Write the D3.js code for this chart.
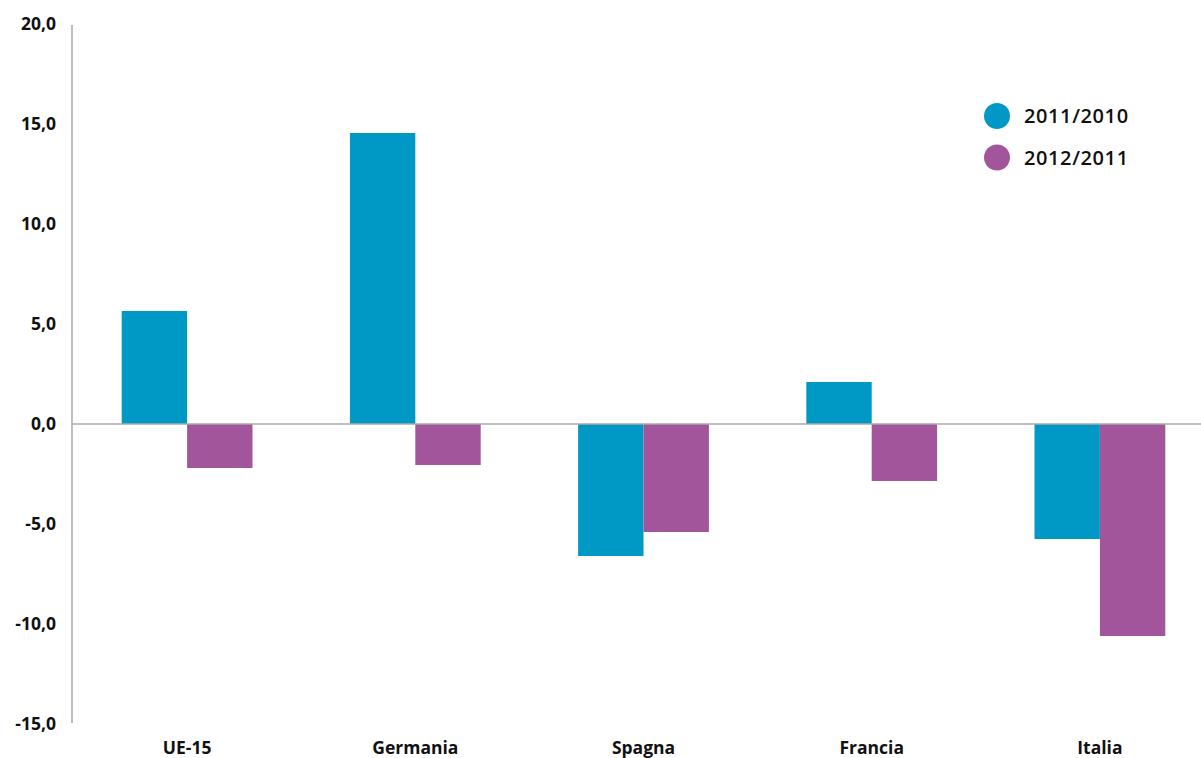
<!DOCTYPE html>
<html><head><meta charset="utf-8">
<script src="https://cdn.jsdelivr.net/npm/d3@7"></script>
<style>body{margin:0;background:#fff}svg{display:block}text{font-family:"Open Sans","Noto Sans",sans-serif}</style>
</head><body><svg id="c" width="1201" height="758"></svg>
<script>
const categories = ["UE-15","Germania","Spagna","Francia","Italia"];
const seriesNames = ["2011/2010","2012/2011"];
const s2011 = [5.65, 14.55, -6.6, 2.1, -5.75];
const s2012 = [-2.2, -2.05, -5.4, -2.85, -10.6];
const yTicks = [-15,-10,-5,0,5,10,15,20];
const colors = ["#0099c6","#a2559b"];

const svg = d3.select("#c");
const y = d3.scaleLinear().domain([-15,20]).range([724,24]);
const x = d3.scaleBand().domain(categories).range([73,1214]).padding(0);
const x1 = d3.scaleBand().domain(seriesNames).range([48.7, x.bandwidth()-48.7]).padding(0);
const data = [s2011, s2012];

// bars
seriesNames.forEach((s,si)=>{
  svg.append("g").selectAll("rect").data(categories).join("rect")
    .attr("x", c=>x(c)+x1(s))
    .attr("width", x1.bandwidth())
    .attr("y", (c,i)=>y(Math.max(0,data[si][i])))
    .attr("height", (c,i)=>Math.abs(y(data[si][i])-y(0)))
    .attr("fill", colors[si]);
});

// zero line
svg.append("line").attr("x1",72).attr("x2",1201).attr("y1",y(0)).attr("y2",y(0))
  .attr("stroke","#aaaaaa").attr("stroke-width",1.5);

// y axis
const ya = d3.axisLeft(y).tickValues(yTicks).tickSize(0).tickPadding(16)
  .tickFormat(d=>d3.format(".1f")(d).replace(".",",").replace("\u2212","-"));
const g = svg.append("g").attr("transform","translate(72,0)").call(ya);
g.select(".domain").attr("stroke","#aaaaaa").attr("stroke-width",1.5).attr("d","M0,"+(y(20)+1)+"V"+(y(-15)-1));
g.selectAll("text").attr("font-size",17.5).attr("font-weight",700).attr("fill","#111");

// x labels
svg.append("g").selectAll("text").data(categories).join("text")
  .attr("x", c=>x(c)+x.bandwidth()/2).attr("y",754)
  .attr("text-anchor","middle").attr("font-size",17.5).attr("font-weight",700).attr("fill","#111")
  .text(d=>d);

// legend
const lg = svg.append("g");
seriesNames.forEach((s,i)=>{
  lg.append("circle").attr("cx",997).attr("cy",116+i*41.5).attr("r",13).attr("fill",colors[i]);
  lg.append("text").attr("x",1024).attr("y",116+i*41.5).attr("dy","0.36em")
    .attr("font-size",20).attr("font-weight",600).attr("letter-spacing",0.6).attr("fill","#111").text(s);
});
</script></body></html>
